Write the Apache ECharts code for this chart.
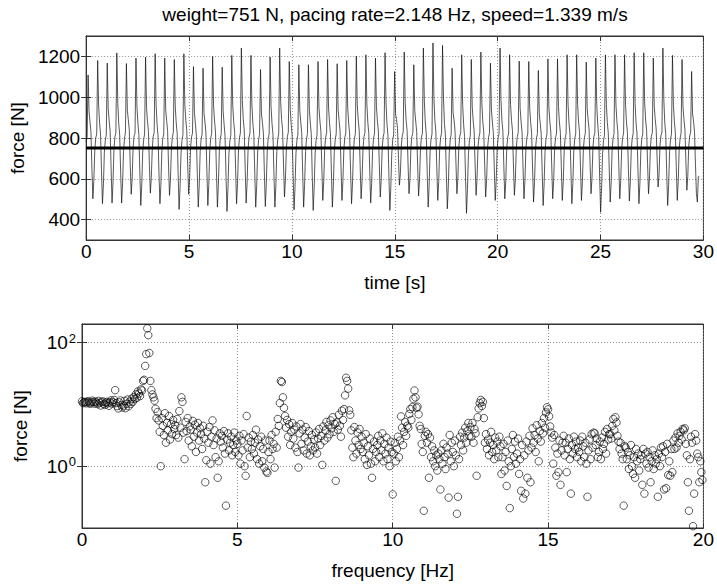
<!DOCTYPE html>
<html><head><meta charset="utf-8">
<script src="https://cdn.jsdelivr.net/npm/echarts@6/dist/echarts.min.js"></script>
<style>html,body{margin:0;padding:0;background:#fff}#c{width:717px;height:588px}</style>
</head><body><div id="c"></div>
<script>
const titleText = 'weight=751 N, pacing rate=2.148 Hz, speed=1.339 m/s';
const bodyWeight = 751;
const timeRange = [0, 30];
const sampleStep = 0.04656;   // s between samples of the force record
const freqStep = 1 / 30;      // Hz between spectral lines

// force record, one step cycle per line: peak, fall, bump, ..., trough, ..., rise
const forceSeg1 = [780, 805,
1109,930,880,830,650,502,590,740,800,820,
1180,960,875,820,640,478,570,730,790,815,
1167,945,885,835,660,481,580,745,805,825,
1217,970,870,815,630,481,575,735,795,830,
1165,935,890,840,670,524,600,755,810,822,
1192,955,872,818,635,469,565,728,792,818,
1197,950,882,832,665,530,605,750,808,826,
1213,965,868,812,628,478,572,738,798,820,
1192,940,886,836,662,519,598,752,804,828,
1185,952,874,822,622,450,560,725,788,816,
1213,962,888,838,668,524,600,754,806,824,
1150,925,870,815,625,461,566,732,794,819,
1142,920,878,826,640,469,572,736,798,823,
1200,958,884,830,630,461,568,734,796,821,
1147,928,866,808,612,440,552,720,786,814,
1205,960,880,828,645,478,578,742,800,825,
1241,985,892,840,650,481,582,744,802,827,
1205,962,872,816,628,461,566,730,792,818,
1136,918,876,824,632,464,570,735,797,822,
1197,955,870,818,626,461,565,733,795,820,
1241,980,890,842,672,511,596,750,806,828];
const forceSeg2 = [
1175,945,868,812,618,448,558,724,790,816,
1159,935,878,826,630,461,568,734,796,822,
1159,938,872,818,615,445,555,722,788,815,
1175,948,884,834,658,494,590,748,804,826,
1185,952,876,822,628,461,566,732,794,820,
1164,940,886,836,660,494,588,746,802,824,
1180,950,874,820,640,478,574,738,798,821,
1202,962,888,838,666,502,594,750,806,827,
1208,966,876,824,642,481,576,740,799,823,
1192,955,884,834,670,511,598,752,805,826,
1218,972,870,814,616,445,556,724,790,818,
1126,915,890,846,700,569,625,765,812,830,
1221,972,886,836,672,527,602,754,806,826,
1159,936,882,832,668,516,596,750,804,824,
1241,982,874,820,630,461,566,732,794,820,
1266,995,886,834,655,494,586,746,802,826,
1254,990,870,814,620,453,560,726,790,817,
1142,925,888,838,676,527,604,756,808,828,
1208,965,866,806,605,431,548,718,786,814,
1185,952,884,834,668,519,598,752,805,825,
1221,975,882,830,665,511,594,750,803,824,
1167,942,878,826,655,494,586,744,800,822];
const forceSeg3 = [
1241,984,884,832,660,502,590,748,802,825,
1208,964,886,836,668,519,598,752,806,826,
1177,946,880,828,660,502,590,746,801,823,
1175,945,876,822,648,486,580,740,798,821,
1131,918,872,818,635,469,570,734,795,820,
1188,952,882,830,660,502,590,748,802,824,
1188,954,878,826,655,494,586,744,800,822,
1208,966,874,820,640,478,576,738,797,821,
1208,964,878,826,654,494,585,744,800,823,
1172,944,888,838,675,527,604,756,807,827,
1192,958,866,808,608,436,550,720,787,815,
1208,965,876,824,648,486,580,740,798,822,
1208,963,882,830,660,502,590,748,802,824,
1208,966,878,826,652,491,584,742,799,822,
1218,970,874,820,640,478,575,738,797,821,
1218,972,888,838,676,527,604,756,807,827,
1192,956,892,844,695,560,620,764,812,829,
1241,985,872,816,630,469,568,734,795,820,
1205,962,880,828,655,494,586,744,800,823,
1185,952,890,842,690,544,612,760,810,828,
1126,918,884,832,672,527,486,610,612];

// spectrum amplitude [N], 0-5, 5-10, 10-15, 15-20 Hz
const ampBand1 = [
11.2,10.5,10.8,11.0,10.4,10.9,11.3,10.6,10.2,10.8,11.5,10.9,10.3,11.1,10.7,
10.1,11.4,10.6,9.6,10.9,11.2,10.2,9.8,10.7,11.0,10.4,9.5,10.8,11.6,10.3,
10.9,11.8,17.0,10.5,9.4,8.6,10.8,11.6,9.8,8.9,9.5,11.4,8.7,10.2,12.0,
9.3,11.1,10.2,12.4,11.0,13.1,12.2,14.5,12.8,16.2,15.0,13.6,17.5,16.8,24.0,
25,42,65,170,132,68,24,17,14.5,13,11.5,8.5,6.0,7.5,5.5,
3.6,1.0,6.0,4.5,3.2,7.2,2.4,5.0,3.8,6.5,2.7,4.8,3.3,5.6,4.0,
4.6,3.2,5.8,2.9,7.8,4.2,13,11,3.5,1.3,5.2,3.7,6.0,2.6,4.4,
3.9,2.1,5.4,3.0,4.7,1.7,3.5,5.0,2.6,4.1,3.3,1.9,4.5,2.8,0.55,
1.25,3.6,2.4,4.3,1.1,3.0,5.5,2.2,3.8,1.4,2.8,0.65,1.2,3.4,2.5,
3.1,2.0,3.7,1.6,0.23,2.7,3.4,1.8,2.4,3.0,1.5,2.2,3.5,1.7,2.6];
const ampBand2 = [
2.3,1.5,3.1,1.1,2.6,1.8,3.3,1.0,0.7,6.5,2.0,2.9,1.4,2.5,1.9,
3.2,1.6,2.4,3.9,1.3,2.7,1.1,2.1,3.0,1.2,1.9,0.95,2.6,0.82,0.78,
1.7,2.6,1.3,3.2,1.9,2.3,0.95,3.6,2.0,5.8,4.5,10.5,24,23,13,
8.8,6.5,4.2,5.6,3.0,4.8,2.2,3.6,5.0,2.8,3.9,2.0,4.4,1.7,0.95,
3.4,4.8,2.3,3.9,1.8,2.9,4.3,1.6,2.5,3.7,1.5,2.1,3.2,1.8,2.7,
2.0,3.5,1.6,2.8,4.0,2.2,3.1,1.05,4.4,2.6,3.8,5.2,2.9,4.6,3.3,
5.5,4.1,6.2,3.6,4.8,0.58,5.1,3.9,6.8,4.5,3.0,7.9,5.6,8.4,14,
27,24,18,8.0,6.8,3.8,2.0,1.4,4.3,2.6,1.6,3.5,2.2,4.0,1.9,
3.0,1.7,2.4,1.3,3.3,1.05,2.1,1.5,2.8,1.1,0.65,1.9,2.5,1.2,1.7,
2.2,3.1,1.4,2.6,1.8,3.4,1.2,2.3,1.6,2.9,1.3,2.0,1.0,2.5,1.7];
const ampBand3 = [
0.35,1.6,2.4,1.2,1.9,3.0,1.4,2.6,6.4,4.2,2.2,3.6,5.2,3.1,4.5,
4.2,7.0,8.4,5.6,9.0,12.3,16.8,13.0,8.8,9.2,6.9,4.5,4.0,2.3,1.7,
0.19,3.1,3.6,2.4,3.3,0.65,2.9,1.4,2.1,1.2,1.8,1.0,1.5,0.85,1.6,
1.3,0.42,1.8,1.1,2.3,1.4,0.9,2.0,1.6,0.31,3.2,1.2,2.4,1.7,1.0,
2.6,1.5,0.17,0.32,1.3,3.0,2.2,3.5,1.8,2.9,4.2,2.4,3.7,5.0,3.1,
4.3,3.0,5.0,2.4,4.0,3.4,0.7,6.2,8.6,10.5,11.8,9.4,11.0,6.0,2.4,
3.3,1.9,2.7,1.5,2.4,3.6,1.7,2.2,1.3,2.9,1.8,2.5,1.4,3.0,2.1,
0.75,1.4,2.3,0.85,1.7,0.48,2.6,1.2,0.21,1.0,1.9,3.2,1.4,2.5,1.1,
1.6,2.8,0.75,1.3,0.4,2.2,0.3,1.5,0.36,2.5,0.65,1.8,3.1,0.55,2.0,
4.1,2.4,3.2,1.7,4.6,2.8,1.2,3.7,2.5,5.0,3.4,6.0,4.2,7.4,9.0];
const ampBand4 = [
8.3,6.4,4.4,3.5,2.9,1.1,3.2,2.0,0.7,1.6,0.8,2.6,0.5,1.8,2.4,
3.1,1.5,2.4,0.8,1.9,2.8,1.3,0.36,2.2,1.6,3.0,1.9,2.5,1.4,2.0,
1.7,2.6,1.2,3.0,2.1,1.4,2.4,1.1,0.32,1.8,2.7,1.3,3.3,2.0,3.5,
3.4,2.2,2.8,1.4,1.7,2.5,1.3,2.9,1.9,2.3,3.6,1.6,4.0,2.7,3.3,
3.3,2.8,4.5,5.8,3.8,6.2,5.1,3.1,2.5,1.9,2.4,1.6,1.3,0.23,2.1,
2.0,1.3,1.7,0.9,1.5,2.2,1.0,0.75,1.4,0.65,1.9,1.2,1.6,0.85,1.3,
1.5,0.5,1.9,0.36,1.6,1.1,1.7,0.95,1.4,0.55,1.2,1.8,0.9,1.5,1.1,
1.3,0.32,1.6,1.0,2.0,1.4,2.1,0.42,1.7,0.44,2.3,0.72,1.2,0.7,1.9,
0.8,2.6,1.9,2.9,2.0,3.4,2.4,3.1,3.6,2.7,4.0,3.8,4.1,2.3,1.5,
0.55,0.19,1.3,3.0,2.4,0.107,0.36,3.3,2.6,1.6,1.4,0.55,1.2,0.8,0.6];

const timeTicks = [0, 5, 10, 15, 20, 25, 30];
const forceTicks = [400, 600, 800, 1000, 1200];
const freqTicks = [0, 5, 10, 15, 20];
const ampTicks = [1, 100];

const forceRecord = forceSeg1.concat(forceSeg2, forceSeg3).map((f, i) => [i * sampleStep, f]);
const spectrum = ampBand1.concat(ampBand2, ampBand3, ampBand4).map((a, k) => [k * freqStep, a]);
const weightLine = [[timeRange[0], bodyWeight], [timeRange[1], bodyWeight]];

const FONT = "'Liberation Sans', Arial, Helvetica, sans-serif";
const FS = 19;
const gridLine = { show: true, lineStyle: { color: '#777', width: 0.8, type: [1, 2] } };
const tick = { show: true, inside: true, length: 5, lineStyle: { color: '#333' } };
const lbl = { color: '#000', fontSize: FS, fontFamily: FONT, formatter: v => String(v) };
const axLine = { show: true, lineStyle: { color: '#333', width: 1 } };
const nameStyle = { color: '#000', fontSize: FS, fontFamily: FONT };

const chart = echarts.init(document.getElementById('c'), null, { renderer: 'svg' });
chart.setOption({
  animation: false,
  backgroundColor: '#fff',
  graphic: [{
    type: 'text', x: 395, y: 14, silent: true,
    style: { text: titleText, fill: '#000', fontSize: 19, fontFamily: FONT,
             textAlign: 'center', textVerticalAlign: 'middle' }
  }],
  grid: [
    { left: 83, top: 36, width: 625, height: 204, show: true, borderColor: '#333', borderWidth: 1 },
    { left: 82, top: 324, width: 626, height: 204, show: true, borderColor: '#333', borderWidth: 1 }
  ],
  xAxis: [
    { type: 'value', gridIndex: 0, min: timeRange[0], max: timeRange[1], interval: 5,
      axisLine: axLine, axisTick: Object.assign({}, tick, { customValues: timeTicks }),
      axisLabel: Object.assign({}, lbl, { margin: 2, customValues: timeTicks }),
      splitLine: gridLine,
      name: 'time [s]', nameLocation: 'middle', nameGap: 33, nameTextStyle: nameStyle },
    { type: 'value', gridIndex: 1, min: 0, max: 20, interval: 5,
      axisLine: axLine, axisTick: Object.assign({}, tick, { customValues: freqTicks }),
      axisLabel: Object.assign({}, lbl, { margin: 2, customValues: freqTicks }),
      splitLine: gridLine,
      name: 'frequency [Hz]', nameLocation: 'middle', nameGap: 33, nameTextStyle: nameStyle },
    { type: 'value', gridIndex: 0, position: 'top', min: timeRange[0], max: timeRange[1], interval: 5,
      axisLine: axLine, axisTick: tick, axisLabel: { show: false }, splitLine: { show: false } },
    { type: 'value', gridIndex: 1, position: 'top', min: 0, max: 20, interval: 5,
      axisLine: axLine, axisTick: tick, axisLabel: { show: false }, splitLine: { show: false } }
  ],
  yAxis: [
    { type: 'value', gridIndex: 0, min: 300, max: 1300,
      axisLine: axLine, axisTick: Object.assign({}, tick, { customValues: forceTicks }),
      axisLabel: Object.assign({}, lbl, { margin: 6, customValues: forceTicks }),
      splitLine: gridLine,
      name: 'force [N]', nameLocation: 'middle', nameGap: 52, nameTextStyle: nameStyle },
    { type: 'log', logBase: 10, gridIndex: 1, min: 0.1, max: 200,
      axisLine: axLine, axisTick: Object.assign({}, tick, { customValues: ampTicks }),
      axisLabel: Object.assign({}, lbl, { margin: 6, customValues: ampTicks,
        formatter: v => '{b|10}{s|' + Math.round(Math.log10(v)) + '}',
        rich: { b: { fontSize: FS, fontFamily: FONT, color: '#000' },
                s: { fontSize: 13, fontFamily: FONT, color: '#000', verticalAlign: 'top', padding: [0, 0, 9, 1] } } }),
      splitLine: gridLine,
      name: 'force [N]', nameLocation: 'middle', nameGap: 52, nameTextStyle: nameStyle },
    { type: 'value', gridIndex: 0, position: 'right', min: 300, max: 1300,
      axisLine: axLine, axisTick: Object.assign({}, tick, { customValues: forceTicks }),
      axisLabel: { show: false, customValues: forceTicks }, splitLine: { show: false } },
    { type: 'log', logBase: 10, gridIndex: 1, position: 'right', min: 0.1, max: 200,
      axisLine: axLine, axisTick: Object.assign({}, tick, { customValues: ampTicks }),
      axisLabel: { show: false, customValues: ampTicks }, splitLine: { show: false } }
  ],
  series: [
    { type: 'line', xAxisIndex: 0, yAxisIndex: 0, data: forceRecord, showSymbol: false, silent: true,
      lineStyle: { color: '#111', width: 0.7 }, z: 2 },
    { type: 'line', xAxisIndex: 0, yAxisIndex: 0, data: weightLine, showSymbol: false, silent: true,
      lineStyle: { color: '#000', width: 3 }, z: 3 },
    { type: 'scatter', xAxisIndex: 1, yAxisIndex: 1, data: spectrum, symbol: 'circle', symbolSize: 7.5,
      silent: true, itemStyle: { color: 'rgba(0,0,0,0)', borderColor: '#000', borderWidth: 0.8 } }
  ]
});
</script></body></html>
